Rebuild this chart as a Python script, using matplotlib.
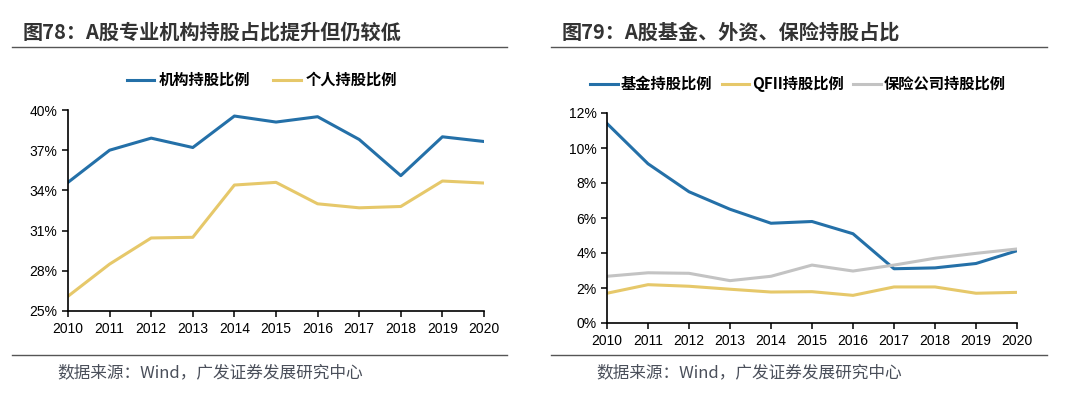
import matplotlib.pyplot as plt
from matplotlib.lines import Line2D
from matplotlib.ticker import FuncFormatter

plt.rcParams['font.family'] = ['Liberation Sans', 'Noto Sans CJK SC', 'DejaVu Sans']

years = [2010, 2011, 2012, 2013, 2014, 2015, 2016, 2017, 2018, 2019, 2020]

# 图78
inst_share = [34.6, 37.0, 37.9, 37.2, 39.55, 39.1, 39.5, 37.8, 35.1, 38.0, 37.65]
indiv_share = [26.1, 28.5, 30.45, 30.5, 34.4, 34.6, 33.0, 32.7, 32.8, 34.7, 34.55]

# 图79
fund_share = [11.4, 9.1, 7.5, 6.5, 5.7, 5.8, 5.1, 3.1, 3.15, 3.4, 4.13]
qfii_share = [1.7, 2.19, 2.1, 1.93, 1.77, 1.79, 1.58, 2.06, 2.06, 1.7, 1.75]
ins_share = [2.67, 2.87, 2.84, 2.42, 2.67, 3.31, 2.97, 3.31, 3.7, 3.98, 4.23]

BLUE = '#2470A8'
YELLOW = '#E6C86A'
GRAY = '#C3C3C3'
W, H = 1080, 398
CJK = ['Noto Sans CJK SC', 'Liberation Sans']


def style_axis(ax, lo, hi, step):
    ax.spines['top'].set_visible(False)
    ax.spines['right'].set_visible(False)
    ax.spines['left'].set_linewidth(1.2)
    ax.spines['bottom'].set_linewidth(1.2)
    ax.set_xlim(years[0], years[-1])
    ax.set_ylim(lo, hi)
    ax.set_xticks(years)
    ax.set_yticks(range(lo, hi + 1, step))
    ax.yaxis.set_major_formatter(FuncFormatter(lambda v, p: '%d%%' % v))
    ax.tick_params(axis='both', direction='out', length=4, width=1.1,
                   labelsize=10, colors='black')
    ax.tick_params(axis='x', pad=4)


def frame(fig, x0, x1, title):
    fig.text(x0 / W + 0.01, 1 - 32 / H, title, family=CJK, fontsize=14.5,
             fontweight='bold', color='#333333', va='center')
    for y in (47, 355):
        fig.add_artist(Line2D([x0 / W, x1 / W], [1 - y / H, 1 - y / H],
                              color='#555555', lw=1.0))
    fig.text(57 / W + (x0 - 12) / W, 1 - 373 / H,
             '数据来源：Wind，广发证券发展研究中心', family=CJK,
             fontsize=12, color='#4A4F5A', va='center')


def run():
    fig = plt.figure(figsize=(10.8, 3.98), dpi=100)

    ax1 = fig.add_axes([68 / W, 1 - 311 / H, (484 - 68) / W, (311 - 110) / H])
    ax1.plot(years, inst_share, color=BLUE, lw=2.2, label='机构持股比例')
    ax1.plot(years, indiv_share, color=YELLOW, lw=2.2, label='个人持股比例')
    style_axis(ax1, 25, 40, 3)
    ax1.legend(loc='center', bbox_to_anchor=(262 / W, 1 - 80 / H),
               bbox_transform=fig.transFigure, ncol=2, frameon=False,
               prop={'family': CJK, 'size': 11, 'weight': 'bold'},
               handlelength=1.8, handletextpad=0.3, columnspacing=1.5)
    frame(fig, 12, 507, '图78：A股专业机构持股占比提升但仍较低')

    ax2 = fig.add_axes([607 / W, 1 - 323 / H, (1017 - 607) / W, (323 - 113) / H])
    ax2.plot(years, fund_share, color=BLUE, lw=2.2, label='基金持股比例')
    ax2.plot(years, qfii_share, color=YELLOW, lw=2.2, label='QFII持股比例')
    ax2.plot(years, ins_share, color=GRAY, lw=2.2, label='保险公司持股比例')
    style_axis(ax2, 0, 12, 2)
    ax2.legend(loc='center', bbox_to_anchor=(798 / W, 1 - 84 / H),
               bbox_transform=fig.transFigure, ncol=3, frameon=False,
               prop={'family': CJK, 'size': 11, 'weight': 'bold'},
               handlelength=1.8, handletextpad=0.2, columnspacing=0.6)
    frame(fig, 551, 1047, '图79：A股基金、外资、保险持股占比')

    fig.savefig('out.png', dpi=100)


if __name__ == '__main__':
    run()
